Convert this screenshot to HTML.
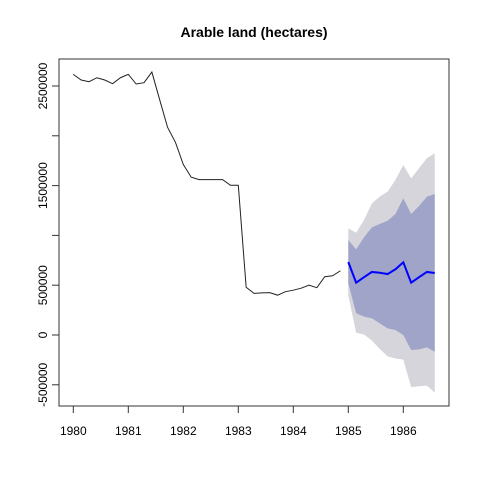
<!DOCTYPE html>
<html><head><meta charset="utf-8"><style>
body{margin:0;background:#fff;}
svg text{font-family:"Liberation Sans",Arial,sans-serif;}
</style></head><body>
<svg id="chart" width="480" height="480" viewBox="0 0 480 480">
<text x="254" y="37" text-anchor="middle" font-size="14" font-weight="bold">Arable land (hectares)</text>
<rect x="59" y="59" width="390" height="347" fill="none" stroke="#333" stroke-width="1"/>
<g id="bands"></g><g id="lines"></g><g id="axes"></g>
</svg>
<script>
const histValues=[2.617,2.560,2.543,2.583,2.560,2.523,2.583,2.617,2.520,2.533,2.640,2.360,2.085,1.935,1.712,1.585,1.560,1.560,1.560,1.560,1.503,1.503,0.479,0.418,0.423,0.425,0.400,0.435,0.450,0.470,0.500,0.475,0.585,0.595,0.645];
const fcMean=[0.733,0.525,0.580,0.633,0.625,0.612,0.660,0.730,0.525,0.580,0.633,0.623];
const hi80=[0.954,0.860,0.980,1.081,1.114,1.147,1.215,1.372,1.215,1.295,1.388,1.416];
const lo80=[0.520,0.218,0.184,0.168,0.117,0.067,0.050,0.000,-0.151,-0.144,-0.124,-0.168];
const hi95=[1.071,1.027,1.155,1.322,1.389,1.439,1.556,1.707,1.573,1.674,1.774,1.824];
const lo95=[0.395,0.023,0.005,-0.056,-0.139,-0.215,-0.236,-0.247,-0.523,-0.514,-0.508,-0.578];
const xTicks=[1980,1981,1982,1983,1984,1985,1986];
const yTicks=[-500000,0,500000,1000000,1500000,2000000,2500000];
const yLabels=["-500000","0","500000","","1500000","","2500000"];
const freq=7,start=1980;
const NS="http://www.w3.org/2000/svg";
function X(t){return 73.3+(t-1980)*55;}
function Y(v){return 335-v*99.6;} // v in millions
function el(tag,attrs,parent){const e=document.createElementNS(NS,tag);for(const k in attrs)e.setAttribute(k,attrs[k]);parent.appendChild(e);return e;}
const bands=document.getElementById('bands'),lines=document.getElementById('lines'),axes=document.getElementById('axes');
const n=histValues.length;
const ft=fcMean.map((_,i)=>start+(n+i)/freq);
function band(hi,lo,color,name){
  let pts=ft.map((t,i)=>X(t)+','+Y(hi[i]));
  pts=pts.concat(ft.map((t,i)=>X(t)+','+Y(lo[i])).reverse());
  const p=el('polygon',{points:pts.join(' '),fill:color},bands);
  
  
}
band(hi95,lo95,'#d5d5db','band-95');
band(hi80,lo80,'#a0a4c8','band-80');
const hp=el('polyline',{points:histValues.map((v,i)=>X(start+i/freq)+','+Y(v)).join(' '),fill:'none',stroke:'#222','stroke-width':1},lines);


const fp=el('polyline',{points:fcMean.map((v,i)=>X(ft[i])+','+Y(v)).join(' '),fill:'none',stroke:'#0000ff','stroke-width':2},lines);


xTicks.forEach(t=>{
  const x=X(t);
  const tk=el('line',{x1:x,x2:x,y1:406,y2:413,stroke:'#333'},axes);
  
  
  const tx=el('text',{x:x,y:435,'text-anchor':'middle','font-size':12},axes);
  tx.textContent=t;
  
  
});
yTicks.forEach((v,i)=>{
  const y=Y(v/1e6);
  const tk=el('line',{x1:52,x2:59,y1:y,y2:y,stroke:'#333'},axes);
  
  
  if(yLabels[i]){
    const tx=el('text',{x:0,y:0,'text-anchor':'middle','font-size':12,transform:'translate(47,'+y+') rotate(-90)'},axes);
    tx.textContent=yLabels[i];
    
    
  }
});
</script>
</body></html>
